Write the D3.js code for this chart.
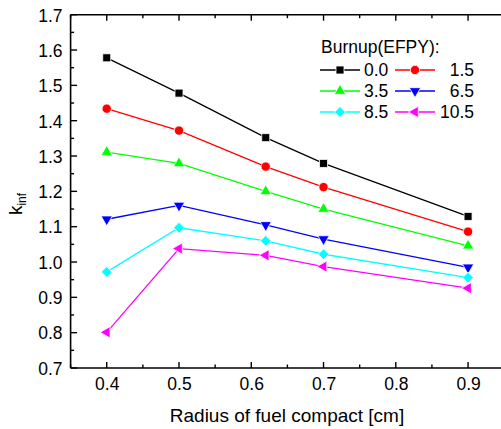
<!DOCTYPE html>
<html>
<head>
<meta charset="utf-8">
<script src="https://cdn.jsdelivr.net/npm/d3@7"></script>
<style>
html,body{margin:0;padding:0;background:#fff;}
svg{display:block;font-family:"Liberation Sans",Arial,sans-serif;}
</style>
</head>
<body>
<svg id="chart" width="501" height="429"></svg>
<script>
const radius = [0.4, 0.5, 0.62, 0.7, 0.9];
const burnupLabels = ["0.0", "1.5", "3.5", "6.5", "8.5", "10.5"];
const k00  = [1.578, 1.478, 1.352, 1.279, 1.129];
const k15  = [1.434, 1.372, 1.270, 1.212, 1.086];
const k35  = [1.311, 1.279, 1.200, 1.150, 1.046];
const k65  = [1.121, 1.160, 1.105, 1.065, 0.985];
const k85  = [0.972, 1.097, 1.060, 1.022, 0.956];
const k105 = [0.801, 1.038, 1.019, 0.987, 0.926];
const xTicks = [0.4, 0.5, 0.6, 0.7, 0.8, 0.9];
const yTicks = [0.7, 0.8, 0.9, 1.0, 1.1, 1.2, 1.3, 1.4, 1.5, 1.6, 1.7];

const seriesValues = [k00, k15, k35, k65, k85, k105];
const colors = ["#000000", "#ff0000", "#00ff00", "#0000ff", "#00ffff", "#ff00ff"];
const shapes = ["square", "circle", "triUp", "triDown", "diamond", "triLeft"];

(function () {
const svg = d3.select("#chart");
const pL = 70.6, pR = 504.2, pT = 14.7, pB = 368;
const x = d3.scaleLinear().domain([0.35, 0.95]).range([pL, pR]);
const y = d3.scaleLinear().domain([0.7, 1.7]).range([pB, pT]);

function symbolPath(shape) {
  switch (shape) {
    case "square": return d3.symbol(d3.symbolSquare, 64)();
    case "circle": return d3.symbol(d3.symbolCircle, 68)();
    case "diamond": return d3.symbol(d3.symbolSquare, 58)();
    default: return d3.symbol(d3.symbolTriangle, 56)();
  }
}
function symbolRot(shape) {
  return {square:0, circle:0, diamond:45, triUp:0, triDown:180, triLeft:-90}[shape];
}

const g = svg.append("g");
const fs = 17.5;
const xMinor = d3.range(0.35, 0.951, 0.05);
const yMinor = d3.range(0.7, 1.701, 0.05);

g.append("line").attr("x1", pL).attr("x2", pR).attr("y1", pB).attr("y2", pB)
  .attr("stroke", "#000").attr("stroke-width", 1.6);
g.append("line").attr("x1", pL).attr("x2", pR).attr("y1", pT).attr("y2", pT)
  .attr("stroke", "#000").attr("stroke-width", 1.6);
g.append("line").attr("x1", pL).attr("x2", pL).attr("y1", pT).attr("y2", pB)
  .attr("stroke", "#000").attr("stroke-width", 1.6);

const xAxisB = d3.axisBottom(x).tickValues(xTicks).tickFormat(d3.format(".1f")).tickSize(0).tickPadding(0);
const ax = svg.append("g").attr("transform", `translate(0,${pB})`).call(xAxisB);
ax.select(".domain").remove();
ax.selectAll("text").attr("font-size", fs).attr("font-family", "Liberation Sans, Arial, sans-serif")
  .attr("fill", "#000").attr("dy", null).attr("y", 22);

const yAxisL = d3.axisLeft(y).tickValues(yTicks).tickFormat(d3.format(".1f")).tickSize(0).tickPadding(8);
const ay = svg.append("g").attr("transform", `translate(${pL},0)`).call(yAxisL);
ay.select(".domain").remove();
ay.selectAll("text").attr("font-size", fs).attr("font-family", "Liberation Sans, Arial, sans-serif")
  .attr("fill", "#000").attr("dy", "0.36em");

xMinor.forEach(v => {
  const major = Math.abs(Math.round(v * 10) - v * 10) < 1e-6;
  const len = major ? 6 : 3.5;
  g.append("line").attr("x1", x(v)).attr("x2", x(v)).attr("y1", pB).attr("y2", pB - len)
    .attr("stroke", "#000").attr("stroke-width", 1.4);
  g.append("line").attr("x1", x(v)).attr("x2", x(v)).attr("y1", pT).attr("y2", pT + len)
    .attr("stroke", "#000").attr("stroke-width", 1.4);
});
yMinor.forEach(v => {
  const major = Math.abs(Math.round(v * 10) - v * 10) < 1e-6;
  const len = major ? 6.5 : 3.5;
  g.append("line").attr("x1", pL).attr("x2", pL + len).attr("y1", y(v)).attr("y2", y(v))
    .attr("stroke", "#000").attr("stroke-width", 1.4);
});

svg.append("text").attr("x", 287).attr("y", 421.5).attr("text-anchor", "middle")
  .attr("font-size", 19).text("Radius of fuel compact [cm]");
const yl = svg.append("text").attr("transform", "translate(21.5,204) rotate(-90)")
  .attr("text-anchor", "middle").attr("font-size", 19);
yl.append("tspan").text("k");
yl.append("tspan").attr("font-size", 12).attr("dy", 4).text("inf");

const line = d3.line().x((d, i) => x(radius[i])).y(d => y(d));
seriesValues.forEach((vals, si) => {
  svg.append("path").attr("d", line(vals)).attr("fill", "none")
    .attr("stroke", colors[si]).attr("stroke-width", 1.3);
});
seriesValues.forEach((vals, si) => {
  svg.selectAll(null).data(vals).enter().append("path")
    .attr("d", symbolPath(shapes[si]))
    .attr("transform", (d, i) => `translate(${x(radius[i])},${y(d)}) rotate(${symbolRot(shapes[si])})`)
    .attr("fill", colors[si]).attr("stroke", "#fff").attr("stroke-width", 0.8);
});

svg.append("text").attr("x", 321).attr("y", 53).attr("font-size", fs).text("Burnup(EFPY):");
const rowY = [70, 91, 112];
burnupLabels.forEach((lab, si) => {
  const row = Math.floor(si / 2), col = si % 2;
  const cy = rowY[row];
  const x0 = col === 0 ? 320 : 395;
  svg.append("line").attr("x1", x0).attr("x2", x0 + 40).attr("y1", cy).attr("y2", cy)
    .attr("stroke", colors[si]).attr("stroke-width", 1.3);
  svg.append("path").attr("d", symbolPath(shapes[si]))
    .attr("transform", `translate(${x0 + 20},${cy}) rotate(${symbolRot(shapes[si])})`)
    .attr("fill", colors[si]).attr("stroke", "#fff").attr("stroke-width", 0.8);
  const t = svg.append("text").attr("y", cy + 6).attr("font-size", fs).text(lab);
  if (col === 0) t.attr("x", 364);
  else t.attr("x", 474).attr("text-anchor", "end");
});
})();
</script>
</body>
</html>
